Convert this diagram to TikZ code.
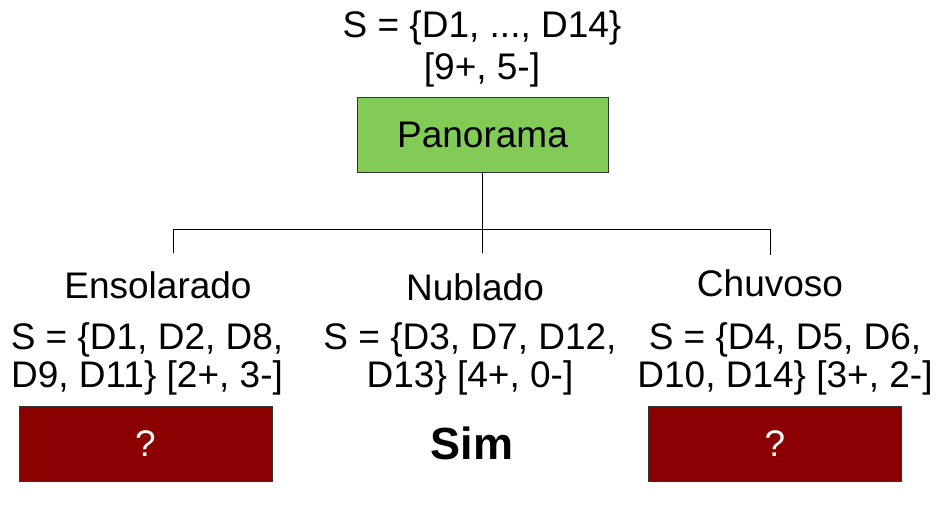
\documentclass[tikz,border=0pt]{standalone}
\usepackage{fontspec}
\setmainfont{Liberation Sans}
\newcommand{\varfs}{18.5}
\newcommand{\varbx}{125.5pt}
\newcommand{\varby}{37.5pt}
\definecolor{mygreen}{RGB}{129,203,86}
\definecolor{mydarkred}{RGB}{139,0,0}
\tikzset{
	txt/.style={inner sep=0pt, align=center, font=\fontsize{\varfs}{19}\selectfont},
	attrbox/.style={draw=black!80, fill=mygreen, minimum width=\varbx, minimum height=\varby, font=\fontsize{\varfs}{22}\selectfont},
	leafbox/.style={draw=black!80, fill=mydarkred, text=white, minimum width=126.5pt, minimum height=\varby, font=\fontsize{\varfs}{22}\selectfont}
}

\begin{document}
\begin{tikzpicture}[x=0.5pt, y=0.5pt]

	\useasboundingbox (0,0) rectangle (946,-505);

	% root
	\node [txt, font=\fontsize{\varfs}{21}\selectfont] (rootset) at (482,-49) {S = \{D1, ..., D14\}\\{}[9+, 5-]};
	\node [attrbox] (root) at (482.5,-134.5) {Panorama};

	% branches
	\node [txt] (sun) at (158,-285) {Ensolarado};
	\node [txt] (cloud) at (475,-287) {Nublado};
	\node [txt] (rain) at (770,-283) {Chuvoso};

	\node [txt] (sunset) at (147,-359) {S = \{D1, D2, D8,\\D9, D11\} [2+, 3-]};
	\node [txt] (cloudset) at (470,-359) {S = \{D3, D7, D12,\\D13\} [4+, 0-]};
	\node [txt] (rainset) at (785,-359) {S = \{D4, D5, D6,\\D10, D14\} [3+, 2-]};

	% leaves
	\node [leafbox] (sunleaf) at (145.5,-443.5) {?};
	\node [txt, font=\fontsize{22.5}{26}\selectfont\bfseries] (cloudleaf) at (472,-443) {Sim};
	\node [leafbox] (rainleaf) at (775,-443.5) {?};

	% lines
	\coordinate (jl) at (173,-229);
	\coordinate (jr) at (770,-229);
	\coordinate (el) at (173,-253);
	\coordinate (er) at (770,-255);
	\draw (root.south) -- (root.south |- jl);
	\draw (el) -- (jl) -- (jr) -- (er);
	\draw (root.south |- jl) -- ++(0,-24);

\end{tikzpicture}
\end{document}
